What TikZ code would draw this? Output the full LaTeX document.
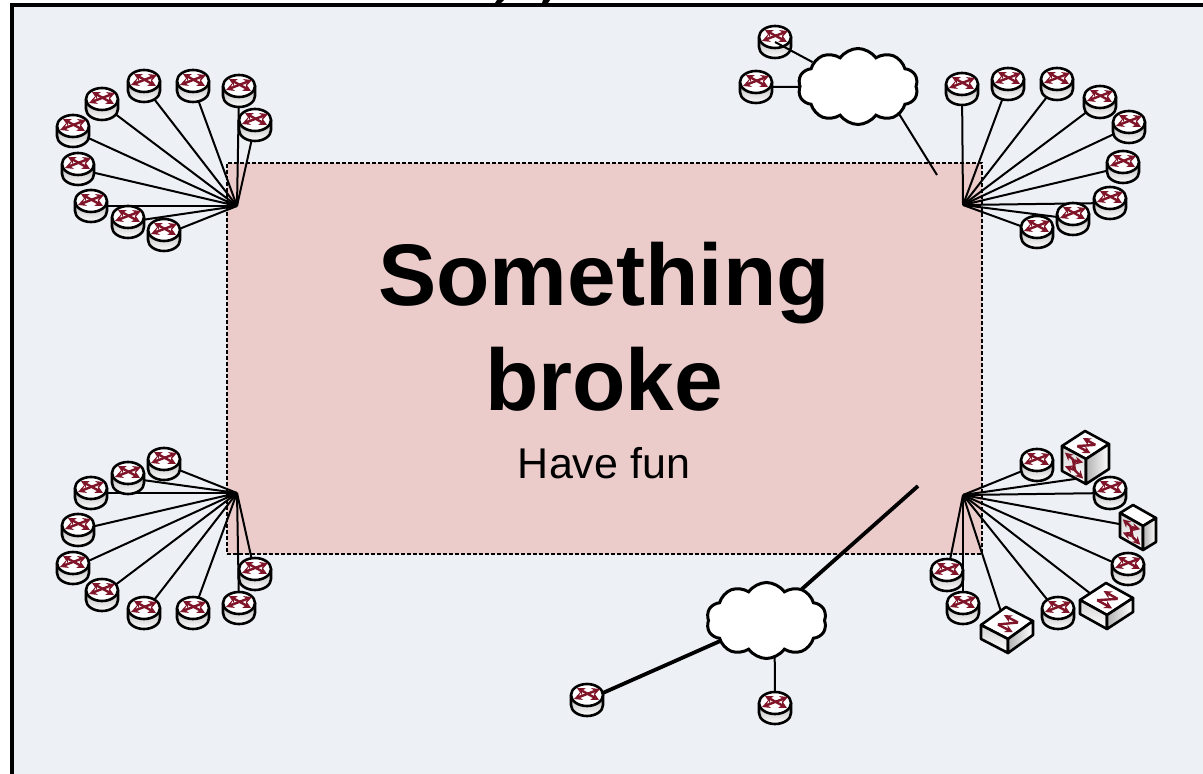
\documentclass[tikz,border=0pt]{standalone}
\usepackage{fontspec}
\setmainfont{Liberation Sans}
\usetikzlibrary{arrows.meta, backgrounds, shapes.symbols}
\definecolor{colPanel}{RGB}{237, 240, 245}
\definecolor{colBroken}{RGB}{235, 204, 203}
\definecolor{colArrow}{RGB}{128, 20, 40}

\newcommand{\router}[3]{%
  \node[routerspot] (#1) at (#2,#3) {};
  \begin{scope}[shift={(#2,#3)}]
    \shade[top color=gray!60, bottom color=white, draw=black, icon]
      (-16,-5) -- (-16,5) arc[start angle=180, end angle=360, x radius=8pt, y radius=5.5pt]
      -- (16,-5) -- cycle;
    \draw[icon, fill=white] (0,-5) ellipse[x radius=8pt, y radius=5.5pt];
    \draw[redarrow, twotips] (-13,-1) -- (13,-11);
    \draw[redarrow, twotips] (-10,-12) -- (12,0);
  \end{scope}}

% top vertex, edge vectors along the top face, height, then the marks
\newcommand{\switchbox}[9]{%
  \begin{scope}[shift={(#2,#3)}, x={(#4*0.5pt,-#5*0.5pt)}, y={(#6*0.5pt,-#7*0.5pt)}, z={(0pt,-#8*0.5pt)}]
    \node[switchspot] (#1) at (0.5,0.5,0.5) {};
    \draw[icon, fill=white] (0,0,0) -- (1,0,0) -- (1,1,0) -- (0,1,0) -- cycle;
    \shade[draw=black, icon, top color=gray!35, bottom color=white]
      (0,1,0) -- (1,1,0) -- (1,1,1) -- (0,1,1) -- cycle;
    \shade[draw=black, icon, left color=gray!60, right color=white]
      (1,1,0) -- (1,0,0) -- (1,0,1) -- (1,1,1) -- cycle;
    #9
  \end{scope}}

\newcommand{\upperarrows}{%
  \draw[redarrow, onetip] (0.72,0.3,0) -- (0.2,0.3,0);
  \draw[redarrow] (0.72,0.3,0) -- (0.35,0.7,0);
  \draw[redarrow, onetip] (0.35,0.7,0) -- (0.9,0.7,0);
}
\newcommand{\sidearrows}{%
  \draw[redarrow, twotips] (0.12,1,0.2) -- (0.45,1,0.3) -- (0.55,1,0.7) -- (0.88,1,0.85);
  \draw[redarrow, twotips] (0.12,1,0.75) -- (0.45,1,0.7) -- (0.55,1,0.3) -- (0.88,1,0.2);
}

\begin{document}
\begin{tikzpicture}[
  x=0.5pt, y=-0.5pt,
  link/.style={line width=1pt},
  heavylink/.style={line width=1.9pt},
  icon/.style={line width=1.3pt, line join=round},
  redarrow/.style={draw=colArrow, line width=1.2pt},
  twotips/.style={{Stealth[length=4pt,width=4pt]}-{Stealth[length=4pt,width=4pt]}},
  onetip/.style={-{Stealth[length=4pt,width=4pt]}},
  routerspot/.style={circle, inner sep=0pt, minimum size=13pt},
  switchspot/.style={inner sep=0pt, minimum size=1pt},
  netcloud/.style={cloud, cloud puffs=10, cloud puff arc=110, aspect=1.6, draw=black,
                   line width=1.5pt, fill=white, inner sep=0pt,
                   minimum width=60pt, minimum height=38pt},
  bigtext/.style={font=\fontsize{43.7pt}{50pt}\selectfont\bfseries, anchor=base},
  smalltext/.style={font=\fontsize{21.5pt}{26pt}\selectfont, anchor=base}
]
\useasboundingbox (0,0) rectangle (1203,774);

% ---------- Panneau ----------
\begin{scope}[on background layer]
  \fill[white] (0,0) rectangle (1203,774);
  \fill[colPanel] (12,5) rectangle (1203,774);
  \draw[line width=1.7pt] (12,774) -- (12,5) -- (1203,5);
  \fill (497,0) -- (504,0) -- (501,3) -- (495,3) -- cycle;
  \fill (543,0) -- (550,0) -- (548,3) -- (542,3) -- cycle;
  \node[draw=black, dash pattern=on 2pt off 1pt, line width=0.9pt, fill=colBroken, inner sep=0pt,
        minimum width=377.5pt, minimum height=195.5pt, anchor=north west] (brokenzone) at (226,162) {};
\end{scope}

% ---------- Textes ----------
\node[bigtext] (title1) at (604,306) {Something};
\node[bigtext] (title2) at (604,411) {broke};
\node[smalltext] (subtitle) at (604,478) {Have fun};

% ---------- Routeurs ----------
\foreach \rx/\ry [count=\ri] in {144/86, 193/86, 239/91, 255/125, 102/104, 73/131, 78/169, 91/206, 128/222, 164/235}
  {\router{tl\ri}{\rx}{\ry}}
\foreach \rx/\ry [count=\ri] in {962/89, 1008/84, 1057/84, 1100/102, 1129/127, 1123/167, 1110/203, 1073/219, 1037/232}
  {\router{tr\ri}{\rx}{\ry}}
\foreach \rx/\ry [count=\ri] in {164/464, 128/478, 91/493, 78/530, 73/568, 102/595, 144/613, 193/613, 239/608, 255/574}
  {\router{bl\ri}{\rx}{\ry}}
\foreach \rx/\ry [count=\ri] in {1037/465, 1110/493, 1128/569, 1058/613, 963/608, 947/575}
  {\router{br\ri}{\rx}{\ry}}

\switchbox{cube}{1085}{431}{24}{13}{-23}{15}{25}{\upperarrows\sidearrows}
\switchbox{slim}{1133}{505}{23}{13}{-13}{8}{24}{\sidearrows}
\switchbox{flatA}{1106}{583}{27}{15}{-26}{17}{14}{\upperarrows}
\switchbox{flatB}{1006}{607}{27}{14}{-25}{18}{14}{\upperarrows}

% ---------- Nuages ----------
\node[netcloud] (cloudtop) at (858,86.5) {};
\node[netcloud] (cloudlow) at (766.5,620.5) {};
\router{ct1}{775}{42}
\router{ct2}{756}{87}
\router{cl1}{587}{700}
\router{cl2}{775}{708}

% ---------- Points de convergence ----------
\coordinate (hubTL) at (237,206);
\coordinate (hubTR) at (963,205);
\coordinate (hubBL) at (237,493);
\coordinate (hubBR) at (963,495);
\coordinate (endtop) at (937,175);
\coordinate (endlow) at (918,486);

% ---------- Liaisons ----------
\begin{scope}[on background layer]
  \foreach \ri in {1,...,10} {
    \draw[link] (hubTL) -- (tl\ri.center);
    \draw[link] (hubBL) -- (bl\ri.center);
  }
  \foreach \ri in {1,...,9}
    \draw[link] (hubTR) -- (tr\ri.center);
  \foreach \ri in {1,...,6}
    \draw[link] (hubBR) -- (br\ri.center);
  \draw[link] (hubBR) -- ([yshift=-10pt]cube.center);
  \foreach \sw in {slim, flatA, flatB}
    \draw[link] (hubBR) -- (\sw.center);
  \draw[link] (endtop) -- ([xshift=12pt]cloudtop.center);
  \draw[link] (ct2.center) -- (cloudtop.center);
  \draw[heavylink] (endlow) -- (cloudlow.center);
  \draw[heavylink] (cl1.center) -- (cloudlow.center);
  \draw[link] (cl2.center) -- ([xshift=4pt]cloudlow.center);
\end{scope}
\draw[link] (ct1.center) -- (cloudtop);

\end{tikzpicture}
\end{document}
